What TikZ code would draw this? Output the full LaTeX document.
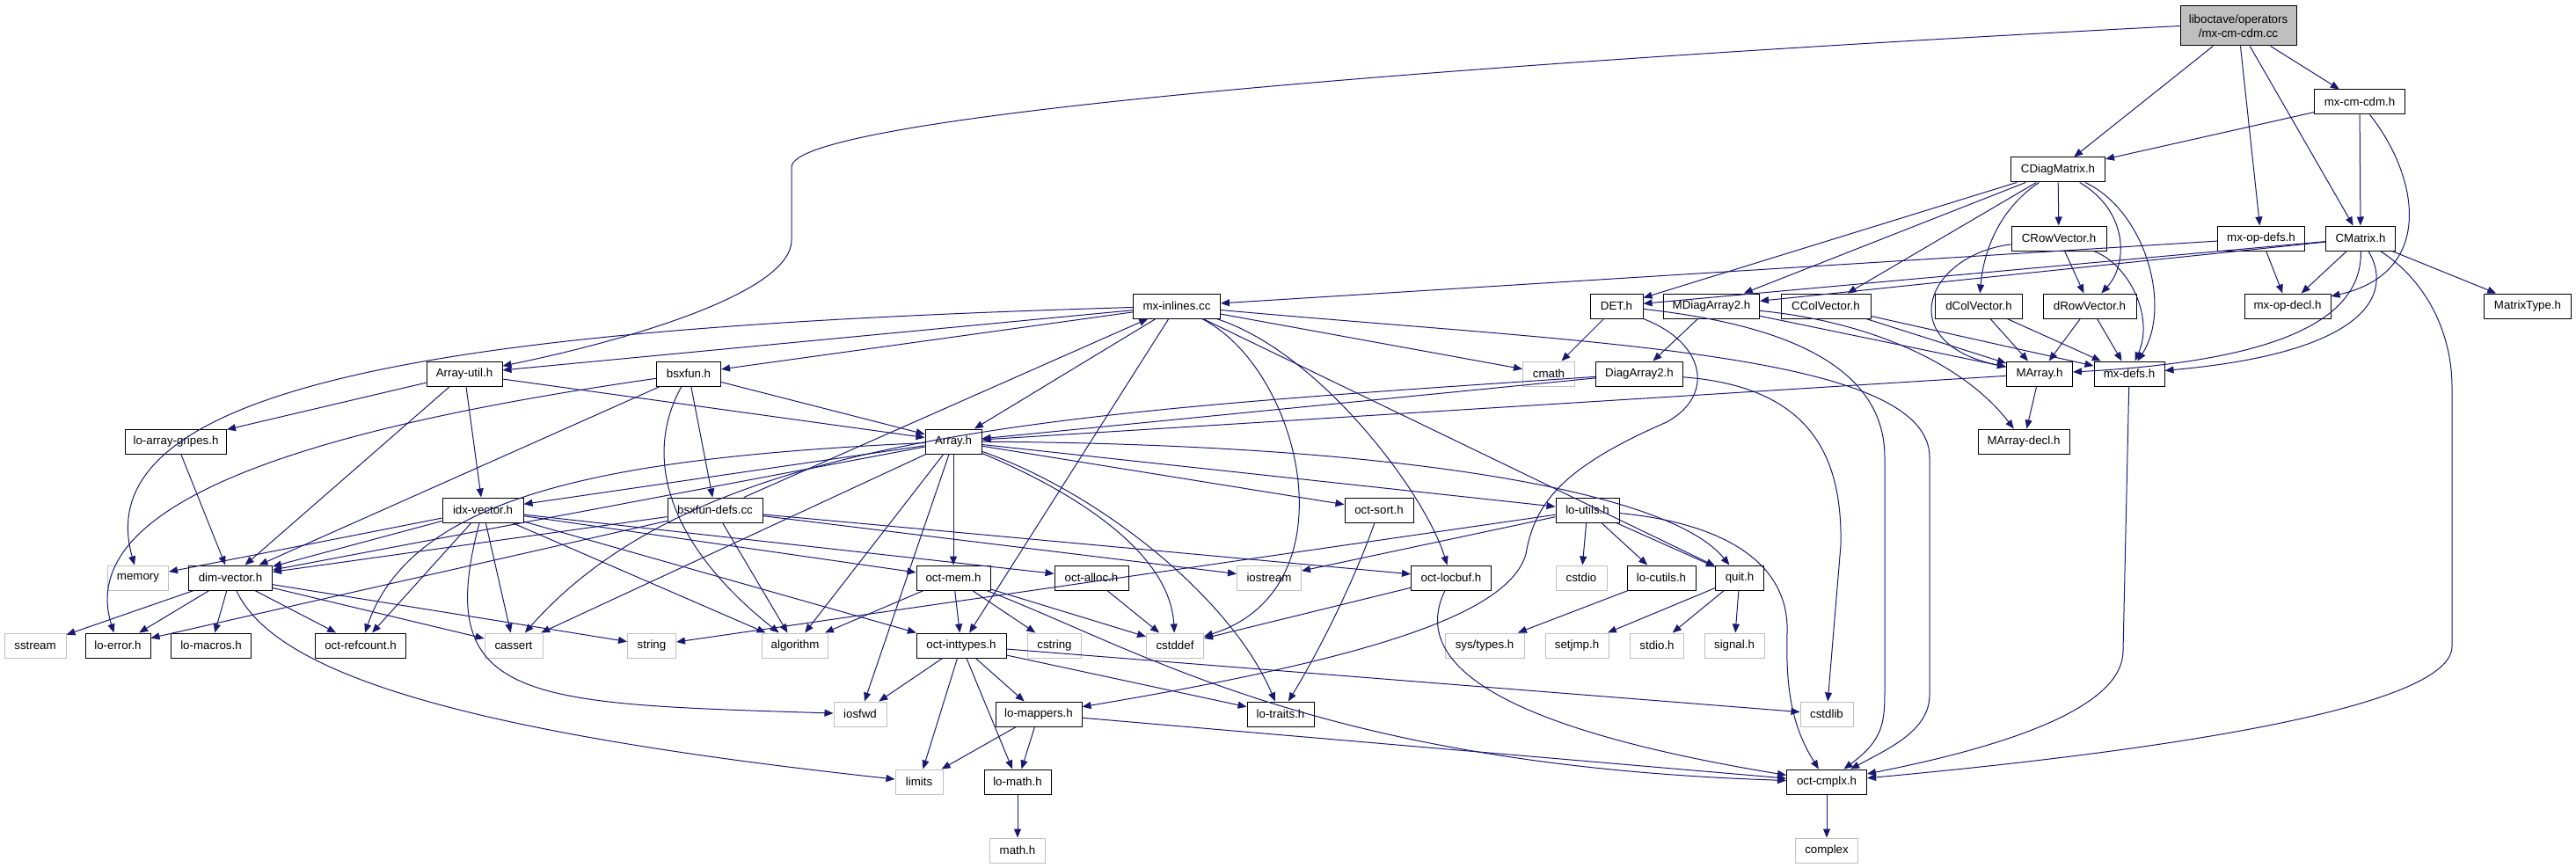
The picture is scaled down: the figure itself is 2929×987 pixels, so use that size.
\documentclass[tikz,border=0pt]{standalone}
\usepackage{fontspec}
\setmainfont{Liberation Sans}
\usetikzlibrary{arrows.meta}
\definecolor{edgeblue}{HTML}{191970}
\definecolor{sysgrey}{HTML}{BFBFBF}
\begin{document}
\begin{tikzpicture}
        [
            x=1pt, y=-1pt,
            file/.style={draw=black, fill=white, line width=1pt, minimum height=28pt, inner xsep=2pt, inner ysep=0pt, font=\fontsize{13.3}{16}\selectfont},
            sysfile/.style={file, draw=sysgrey},
            mainfile/.style={file, fill=sysgrey, align=center, minimum height=45pt},
            dep/.style={draw=edgeblue, line width=1pt, -{Triangle[length=10pt,width=8pt]}},
        ]
        \useasboundingbox (0,0) rectangle (2929,987);

        \node[mainfile, minimum width=132pt] (root) at (2545,29.5) {liboctave/operators\\/mx-cm-cdm.cc};
        \node[file, minimum width=103pt] (mxcmcdm) at (2683,116) {mx-cm-cdm.h};
        \node[file, minimum width=107pt] (cdiagmatrix) at (2340,193) {CDiagMatrix.h};
        \node[file, minimum width=108pt] (crowvector) at (2341,271) {CRowVector.h};
        \node[file, minimum width=99pt] (mxopdefs) at (2571,271) {mx-op-defs.h};
        \node[file, minimum width=79pt] (cmatrix) at (2684,271) {CMatrix.h};
        \node[file, minimum width=99pt] (mxinlines) at (1338,348) {mx-inlines.cc};
        \node[file, minimum width=60pt] (det) at (1838,348) {DET.h};
        \node[file, minimum width=109pt] (mdiagarray) at (1946,348) {MDiagArray2.h};
        \node[file, minimum width=102pt] (ccolvector) at (2076,348) {CColVector.h};
        \node[file, minimum width=99pt] (dcolvector) at (2250,348) {dColVector.h};
        \node[file, minimum width=106pt] (drowvector) at (2376,348) {dRowVector.h};
        \node[file, minimum width=98pt] (mxopdecl) at (2601,348) {mx-op-decl.h};
        \node[file, minimum width=99pt] (matrixtype) at (2874,348) {MatrixType.h};
        \node[file, minimum width=86pt] (arrayutil) at (528,425) {Array-util.h};
        \node[file, minimum width=73pt] (bsxfun) at (783,425) {bsxfun.h};
        \node[sysfile, minimum width=59pt] (cmath) at (1761,425) {cmath};
        \node[file, minimum width=99pt] (diagarray) at (1864,425) {DiagArray2.h};
        \node[file, minimum width=75pt] (marray) at (2319,425) {MArray.h};
        \node[file, minimum width=80pt] (mxdefs) at (2421,425) {mx-defs.h};
        \node[file, minimum width=115pt] (gripes) at (200,502) {lo-array-gripes.h};
        \node[file, minimum width=64pt] (array) at (1084,502) {Array.h};
        \node[file, minimum width=104pt] (marraydecl) at (2301,502) {MArray-decl.h};
        \node[file, minimum width=92pt] (idxvector) at (549,580) {idx-vector.h};
        \node[file, minimum width=108pt] (bsxfundefs) at (813,580) {bsxfun-defs.cc};
        \node[file, minimum width=78pt] (octsort) at (1568,580) {oct-sort.h};
        \node[file, minimum width=72pt] (loutils) at (1805,580) {lo-utils.h};
        \node[sysfile, minimum width=69pt] (memory) at (157,657) {memory};
        \node[file, minimum width=95pt] (dimvector) at (262,657) {dim-vector.h};
        \node[file, minimum width=84pt] (octmem) at (1084,657) {oct-mem.h};
        \node[file, minimum width=84pt] (octalloc) at (1241,657) {oct-alloc.h};
        \node[sysfile, minimum width=73pt] (iostream) at (1443,657) {iostream};
        \node[file, minimum width=91pt] (octlocbuf) at (1650,657) {oct-locbuf.h};
        \node[sysfile, minimum width=58pt] (cstdio) at (1798,657) {cstdio};
        \node[file, minimum width=78pt] (locutils) at (1889,657) {lo-cutils.h};
        \node[file, minimum width=55pt] (quit) at (1978,657) {quit.h};
        \node[sysfile, minimum width=70pt] (sstream) at (40,734) {sstream};
        \node[file, minimum width=74pt] (loerror) at (134,734) {lo-error.h};
        \node[file, minimum width=91pt] (lomacros) at (240,734) {lo-macros.h};
        \node[file, minimum width=103pt] (refcount) at (410,734) {oct-refcount.h};
        \node[sysfile, minimum width=66pt] (cassert) at (584,734) {cassert};
        \node[sysfile, minimum width=55pt] (string) at (741,734) {string};
        \node[sysfile, minimum width=75pt] (algorithm) at (904,734) {algorithm};
        \node[file, minimum width=102pt] (inttypes) at (1093,734) {oct-inttypes.h};
        \node[sysfile, minimum width=61pt] (cstring) at (1199,734) {cstring};
        \node[sysfile, minimum width=65pt] (cstddef) at (1336,734) {cstddef};
        \node[sysfile, minimum width=90pt] (systypes) at (1688,734) {sys/types.h};
        \node[sysfile, minimum width=72pt] (setjmp) at (1793,734) {setjmp.h};
        \node[sysfile, minimum width=61pt] (stdio) at (1884,734) {stdio.h};
        \node[sysfile, minimum width=68pt] (signal) at (1972,734) {signal.h};
        \node[sysfile, minimum width=60pt] (iosfwd) at (978,812) {iosfwd};
        \node[file, minimum width=98pt] (lomappers) at (1181,812) {lo-mappers.h};
        \node[file, minimum width=76pt] (lotraits) at (1456,812) {lo-traits.h};
        \node[sysfile, minimum width=60pt] (cstdlib) at (2077,812) {cstdlib};
        \node[sysfile, minimum width=54pt] (limits) at (1045,889) {limits};
        \node[file, minimum width=76pt] (lomath) at (1157,889) {lo-math.h};
        \node[file, minimum width=91pt] (octcmplx) at (2077,889) {oct-cmplx.h};
        \node[sysfile, minimum width=63pt] (math) at (1157,967) {math.h};
        \node[sysfile, minimum width=71pt] (complex) at (2077,967) {complex};

        \draw[dep] (root.west) .. controls (1700,70) and (900,130) .. (900,190) -- (900,273) .. controls (900,335) and (700,390) .. (arrayutil);
        \draw[dep] (root) -- (cdiagmatrix);
        \draw[dep] (root) -- (mxopdefs);
        \draw[dep] (root) -- (cmatrix);
        \draw[dep] (root) -- (mxcmcdm);
        \draw[dep] (mxcmcdm) -- (cdiagmatrix);
        \draw[dep] (mxcmcdm) -- (cmatrix);
        \draw[dep] (mxcmcdm) .. controls (2750,200) and (2770,310) .. (mxopdecl);
        \draw[dep] (cdiagmatrix) -- (crowvector);
        \draw[dep] (cdiagmatrix) -- (det);
        \draw[dep] (cdiagmatrix) -- (mdiagarray);
        \draw[dep] (cdiagmatrix) -- (ccolvector);
        \draw[dep] (cdiagmatrix) .. controls (2270,240) and (2255,290) .. (dcolvector);
        \draw[dep] (cdiagmatrix) .. controls (2420,240) and (2420,300) .. (drowvector);
        \draw[dep] (cdiagmatrix) .. controls (2440,240) and (2470,350) .. (mxdefs);
        \draw[dep] (crowvector) -- (drowvector);
        \draw[dep] (crowvector) .. controls (2190,290) and (2150,390) .. (marray);
        \draw[dep] (crowvector) .. controls (2420,300) and (2450,360) .. (mxdefs);
        \draw[dep] (mxopdefs) -- (mxinlines);
        \draw[dep] (mxopdefs) -- (mxopdecl);
        \draw[dep] (cmatrix) -- (det);
        \draw[dep] (cmatrix) -- (mdiagarray);
        \draw[dep] (cmatrix) .. controls (2686,360) and (2600,410) .. (marray);
        \draw[dep] (cmatrix) .. controls (2720,330) and (2700,400) .. (mxdefs);
        \draw[dep] (cmatrix) -- (mxopdecl);
        \draw[dep] (cmatrix) -- (matrixtype);
        \draw[dep] (cmatrix) .. controls (2760,320) and (2788,380) .. (2788,440) -- (2788,735) .. controls (2788,800) and (2500,850) .. (octcmplx);
        \draw[dep] (mxinlines) .. controls (600,370) and (90,420) .. (memory);
        \draw[dep] (mxinlines) -- (arrayutil);
        \draw[dep] (mxinlines) -- (bsxfun);
        \draw[dep] (mxinlines) -- (array);
        \draw[dep] (mxinlines) -- (cmath);
        \draw[dep] (mxinlines) -- (inttypes);
        \draw[dep] (mxinlines) .. controls (1480,420) and (1540,670) .. (cstddef);
        \draw[dep] (mxinlines) .. controls (1500,400) and (1620,560) .. (octlocbuf);
        \draw[dep] (mxinlines) -- (quit);
        \draw[dep] (mxinlines) .. controls (1800,390) and (2194,400) .. (2194,520) -- (2194,790) .. controls (2194,830) and (2150,850) .. (octcmplx);
        \draw[dep] (det) -- (cmath);
        \draw[dep] (det.south east) .. controls (1940,390) and (1950,450) .. (1895,480) .. controls (1780,530) and (1745,570) .. (1735,630) .. controls (1715,700) and (1550,750) .. (lomappers);
        \draw[dep] (det) .. controls (1990,365) and (2143,400) .. (2143,520) -- (2143,780) .. controls (2143,820) and (2143,840) .. (octcmplx);
        \draw[dep] (mdiagarray) -- (diagarray);
        \draw[dep] (mdiagarray) -- (marray);
        \draw[dep] (mdiagarray) .. controls (2120,365) and (2230,410) .. (marraydecl);
        \draw[dep] (ccolvector) -- (marray);
        \draw[dep] (ccolvector) -- (mxdefs);
        \draw[dep] (dcolvector) -- (marray);
        \draw[dep] (dcolvector) -- (mxdefs);
        \draw[dep] (drowvector) -- (marray);
        \draw[dep] (drowvector) -- (mxdefs);
        \draw[dep] (arrayutil) -- (array);
        \draw[dep] (arrayutil) -- (dimvector);
        \draw[dep] (arrayutil) -- (idxvector);
        \draw[dep] (arrayutil) -- (gripes);
        \draw[dep] (bsxfun) -- (array);
        \draw[dep] (bsxfun) -- (dimvector);
        \draw[dep] (bsxfun) -- (bsxfundefs);
        \draw[dep] (bsxfun) .. controls (730,520) and (760,620) .. (algorithm);
        \draw[dep] (bsxfun) .. controls (400,480) and (80,560) .. (loerror);
        \draw[dep] (diagarray) -- (array);
        \draw[dep] (diagarray) .. controls (1200,470) and (800,490) .. (cassert);
        \draw[dep] (diagarray) .. controls (2060,440) and (2095,520) .. (2093,620) -- (cstdlib);
        \draw[dep] (marray) -- (marraydecl);
        \draw[dep] (marray) -- (array);
        \draw[dep] (mxdefs) -- (2414,740) .. controls (2414,800) and (2300,845) .. (octcmplx);
        \draw[dep] (gripes) -- (dimvector);
        \draw[dep] (array) -- (dimvector);
        \draw[dep] (array) -- (idxvector);
        \draw[dep] (array) -- (loutils);
        \draw[dep] (array) -- (octsort);
        \draw[dep] (array) -- (octmem);
        \draw[dep] (array) -- (iosfwd);
        \draw[dep] (array) -- (cassert);
        \draw[dep] (array) -- (algorithm);
        \draw[dep] (array) .. controls (1200,550) and (1330,620) .. (cstddef);
        \draw[dep] (array) .. controls (1250,560) and (1400,680) .. (lotraits);
        \draw[dep] (array) .. controls (1600,505) and (1900,560) .. (quit);
        \draw[dep] (array) .. controls (700,520) and (470,560) .. (refcount);
        \draw[dep] (idxvector) -- (dimvector);
        \draw[dep] (idxvector) -- (memory);
        \draw[dep] (idxvector) -- (refcount);
        \draw[dep] (idxvector) -- (cassert);
        \draw[dep] (idxvector) -- (algorithm);
        \draw[dep] (idxvector) .. controls (490,800) and (600,800) .. (iosfwd);
        \draw[dep] (idxvector) -- (octmem);
        \draw[dep] (idxvector) -- (octalloc);
        \draw[dep] (idxvector) -- (inttypes);
        \draw[dep] (bsxfundefs) -- (mxinlines);
        \draw[dep] (bsxfundefs) -- (algorithm);
        \draw[dep] (bsxfundefs) -- (dimvector);
        \draw[dep] (bsxfundefs) -- (loerror);
        \draw[dep] (bsxfundefs) -- (octlocbuf);
        \draw[dep] (bsxfundefs) -- (iostream);
        \draw[dep] (octsort) .. controls (1540,660) and (1500,740) .. (lotraits);
        \draw[dep] (loutils) -- (iostream);
        \draw[dep] (loutils) -- (string);
        \draw[dep] (loutils) -- (cstdio);
        \draw[dep] (loutils) -- (locutils);
        \draw[dep] (loutils) -- (quit);
        \draw[dep] (loutils) .. controls (1960,595) and (2035,640) .. (2032,720) .. controls (2030,790) and (2040,830) .. (octcmplx);
        \draw[dep] (dimvector) -- (sstream);
        \draw[dep] (dimvector) -- (loerror);
        \draw[dep] (dimvector) -- (lomacros);
        \draw[dep] (dimvector) -- (refcount);
        \draw[dep] (dimvector) -- (cassert);
        \draw[dep] (dimvector) -- (string);
        \draw[dep] (dimvector) .. controls (310,760) and (500,830) .. (limits);
        \draw[dep] (octmem) -- (cstddef);
        \draw[dep] (octmem) -- (cstring);
        \draw[dep] (octmem) -- (algorithm);
        \draw[dep] (octmem) -- (inttypes);
        \draw[dep] (octmem) .. controls (1300,740) and (1500,870) .. (octcmplx);
        \draw[dep] (octalloc) -- (cstddef);
        \draw[dep] (octlocbuf) -- (cstddef);
        \draw[dep] (octlocbuf) .. controls (1600,760) and (1720,830) .. (octcmplx);
        \draw[dep] (locutils) -- (systypes);
        \draw[dep] (quit) -- (setjmp);
        \draw[dep] (quit) -- (stdio);
        \draw[dep] (quit) -- (signal);
        \draw[dep] (inttypes) -- (iosfwd);
        \draw[dep] (inttypes) -- (limits);
        \draw[dep] (inttypes) -- (lomath);
        \draw[dep] (inttypes) -- (lomappers);
        \draw[dep] (inttypes) -- (lotraits);
        \draw[dep] (inttypes) -- (cstdlib);
        \draw[dep] (lomappers) -- (limits);
        \draw[dep] (lomappers) -- (lomath);
        \draw[dep] (lomappers) -- (octcmplx);
        \draw[dep] (lomath) -- (math);
        \draw[dep] (octcmplx) -- (complex);
\end{tikzpicture}
\end{document}
